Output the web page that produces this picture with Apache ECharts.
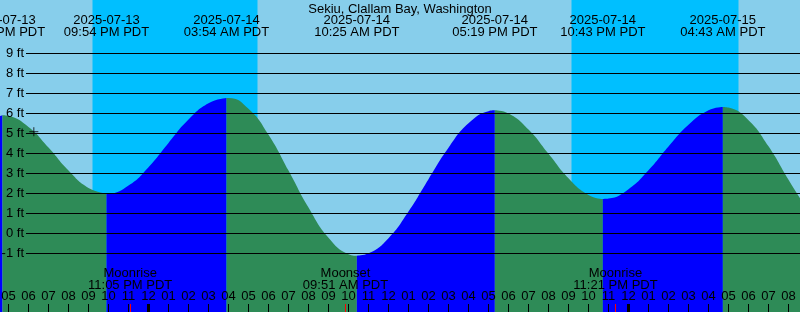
<!DOCTYPE html>
<html><head><meta charset="utf-8">
<script src="https://cdn.jsdelivr.net/npm/echarts@6/dist/echarts.min.js"></script>
<style>html,body{margin:0;padding:0;background:#87CEEB;overflow:hidden}#c{width:800px;height:312px}</style>
</head><body><div id="c"></div>
<script>
// ---------- data ----------
const chartTitle = 'Sekiu, Clallam Bay, Washington';
const axisStartDate = '2025-07-13';
const axisStartTime = '05:00 PM';          // hour 0 of the time axis
const hourMin = -1, hourMax = 40;           // visible hours around the start

// tide extremes
const tideDates   = ['2025-07-13', '2025-07-13', '2025-07-14', '2025-07-14', '2025-07-14', '2025-07-14', '2025-07-15'];
const tideTimes   = ['04:42 PM PDT', '09:54 PM PDT', '03:54 AM PDT', '10:25 AM PDT', '05:19 PM PDT', '10:43 PM PDT', '04:43 AM PDT'];
const tideHeights = [5.9, 2.0, 6.77, -1.12, 6.15, 1.72, 6.32];

// hourly readings (hours after the axis start, feet)
const readingHours   = [-1, 0, 1, 2, 3, 4, 5, 6, 7, 8, 9, 10, 11, 12, 13, 14, 15, 16, 17, 18, 19, 20,
                        21, 22, 23, 24, 25, 26, 27, 28, 29, 30, 31, 32, 33, 34, 35, 36, 37, 38, 39, 40];
const readingHeights = [5.71, 5.87, 5.32, 4.29, 3.14, 2.27, 2.00, 2.39, 3.31, 4.52, 5.69, 6.51, 6.77, 6.23,
                        4.93, 3.14, 1.29, -0.22, -1.04, -1.00, -0.24, 1.09, 2.71, 4.28, 5.50, 6.11, 5.99,
                        5.19, 3.98, 2.76, 1.92, 1.74, 2.21, 3.15, 4.34, 5.43, 6.15, 6.29, 5.66, 4.35, 2.68, 1.08];

// night (sunset -> sunrise)
const nightStartDates = ['2025-07-13', '2025-07-14'];
const nightStartTimes = ['09:12 PM', '09:09 PM'];
const nightEndDates   = ['2025-07-14', '2025-07-15'];
const nightEndTimes   = ['05:27 AM', '05:30 AM'];

// moon
const moonNames = ['Moonrise', 'Moonset', 'Moonrise'];
const moonDates = ['2025-07-13', '2025-07-14', '2025-07-14'];
const moonTimes = ['11:05 PM PDT', '09:51 AM PDT', '11:21 PM PDT'];

// midnights
const midnightDates = ['2025-07-14', '2025-07-15'];

// current reading (crosshair)
const nowDate = '2025-07-13', nowTime = '06:16 PM', nowHeight = 5.08;

// height axis
const ftMin = -1, ftMax = 9, ftStep = 1;

// ---------- helpers ----------
function parseClock(t) {
  if (!t) return [0, 0];
  const m = t.match(/(\d+):(\d+)\s*(AM|PM)/);
  return [(+m[1]) % 12 + (m[3] === 'PM' ? 12 : 0), +m[2]];
}
function stamp(date, time) {
  const [y, mo, d] = date.split('-').map(Number);
  const [hh, mm] = parseClock(time);
  return Date.UTC(y, mo - 1, d, hh, mm);
}
const base = stamp(axisStartDate, axisStartTime);
const startClock = parseClock(axisStartTime)[0];
function toHours(date, time) { return (stamp(date, time) - base) / 3600000; }
function hourLabel(v) {
  let h = (((startClock + v) % 12) + 12) % 12;
  if (h === 0) h = 12;
  return String(h).padStart(2, '0');
}

const tideHours = tideDates.map((d, i) => toHours(d, tideTimes[i]));
const allPts = readingHours.map((h, i) => [h, readingHeights[i]])
  .concat(tideHours.map((h, i) => [h, tideHeights[i]]))
  .sort((a, b) => a[0] - b[0]);

const bounds = [hourMin].concat(tideHours, [hourMax]);
const FONT = 'Liberation Sans';
const FS = 13;
const series = [];

// night bands
series.push({
  type: 'line', xAxisIndex: 0, yAxisIndex: 0, data: [], z: 1, silent: true,
  markArea: {
    silent: true,
    itemStyle: { color: '#00BFFF', opacity: 1 },
    data: nightStartDates.map((d, i) => [
      { xAxis: toHours(d, nightStartTimes[i]) },
      { xAxis: toHours(nightEndDates[i], nightEndTimes[i]) }
    ])
  }
});

// tide segments
for (let i = 0; i < bounds.length - 1; i++) {
  const a = bounds[i], b = bounds[i + 1];
  const pts = allPts.filter(p => p[0] >= a - 1e-9 && p[0] <= b + 1e-9);
  if (pts.length < 2) continue;
  const rising = pts[pts.length - 1][1] > pts[0][1];
  series.push({
    type: 'line', xAxisIndex: 0, yAxisIndex: 0, data: pts, smooth: 0.5,
    symbol: 'none', silent: true, z: 2,
    lineStyle: { width: 0 },
    areaStyle: { color: rising ? '#0000FF' : '#2E8B57', opacity: 1, origin: 'start' }
  });
}

// crosshair
series.push({
  type: 'scatter', xAxisIndex: 0, yAxisIndex: 0, z: 12, silent: true,
  data: [[toHours(nowDate, nowTime), nowHeight]],
  symbol: 'path://M0,5H10M5,0V10', symbolSize: 9,
  itemStyle: { color: 'rgba(0,0,0,0)', borderColor: '#000', borderWidth: 1 }
});

// midnight and moon ticks
series.push({
  type: 'line', xAxisIndex: 1, yAxisIndex: 1, data: [], z: 12, silent: true,
  markLine: {
    silent: true, symbol: 'none', label: { show: false },
    data: midnightDates.map(d => ({ xAxis: toHours(d, null), lineStyle: { color: '#000', width: 3, type: 'solid' } }))
      .concat(moonDates.map((d, i) => ({ xAxis: toHours(d, moonTimes[i]), lineStyle: { color: '#FF0000', width: 1, type: 'solid' } })))
  }
});

const option = {
  backgroundColor: '#87CEEB',
  animation: false,
  textStyle: { fontFamily: FONT },
  title: {
    text: chartTitle, left: 'center', top: -2,
    textStyle: { fontSize: FS, fontWeight: 'normal', color: '#000', fontFamily: FONT }
  },
  grid: [
    { left: -11.5, width: 820, top: -6.667, height: 320, outerBoundsMode: 'none', containLabel: false },
    { left: -11.5, width: 820, top: 304, height: 8, outerBoundsMode: 'none', containLabel: false },
    { left: 26, right: 0, top: 53.333, height: 200, outerBoundsMode: 'none', containLabel: false }
  ],
  xAxis: [
    { gridIndex: 0, type: 'value', min: hourMin, max: hourMax, show: false },
    { gridIndex: 1, type: 'value', min: hourMin, max: hourMax, interval: 1, position: 'top', z: 10,
      axisLine: { show: false }, axisTick: { show: false },
      splitLine: { show: true, lineStyle: { color: '#000', width: 1 } },
      axisLabel: { margin: 1, color: '#000', fontSize: FS, fontFamily: FONT, formatter: hourLabel } },
    { gridIndex: 2, type: 'value', min: 0, max: 1, show: false }
  ],
  yAxis: [
    { gridIndex: 0, type: 'value', min: -4, max: 12, show: false },
    { gridIndex: 1, type: 'value', min: 0, max: 1, show: false },
    { gridIndex: 2, type: 'value', min: ftMin, max: ftMax, interval: ftStep, z: 10,
      axisLine: { show: false }, axisTick: { show: false },
      splitLine: { show: true, lineStyle: { color: '#000', width: 1 } },
      axisLabel: { margin: 2, color: '#000', fontSize: FS, fontFamily: FONT, formatter: '{value} ft' } }
  ],
  series: series
};

const chart = echarts.init(document.getElementById('c'), null, { renderer: 'canvas' });
chart.setOption(option);

const gfx = [];
tideHours.forEach((h, i) => {
  gfx.push({
    type: 'text', z: 20, silent: true,
    x: chart.convertToPixel({ xAxisIndex: 0 }, h), y: 26,
    style: { text: tideDates[i] + '\n' + tideTimes[i], fill: '#000', fontSize: FS, fontFamily: FONT,
      align: 'center', verticalAlign: 'middle', textAlign: 'center', textVerticalAlign: 'middle', lineHeight: 12 }
  });
});
moonDates.forEach((d, i) => {
  gfx.push({
    type: 'text', z: 20, silent: true,
    x: chart.convertToPixel({ xAxisIndex: 0 }, toHours(d, moonTimes[i])), y: 279.5,
    style: { text: moonNames[i] + '\n' + moonTimes[i], fill: '#000', fontSize: FS, fontFamily: FONT,
      align: 'center', verticalAlign: 'middle', textAlign: 'center', textVerticalAlign: 'middle', lineHeight: 12 }
  });
});
chart.setOption({ graphic: { elements: gfx } });
</script>
</body></html>
